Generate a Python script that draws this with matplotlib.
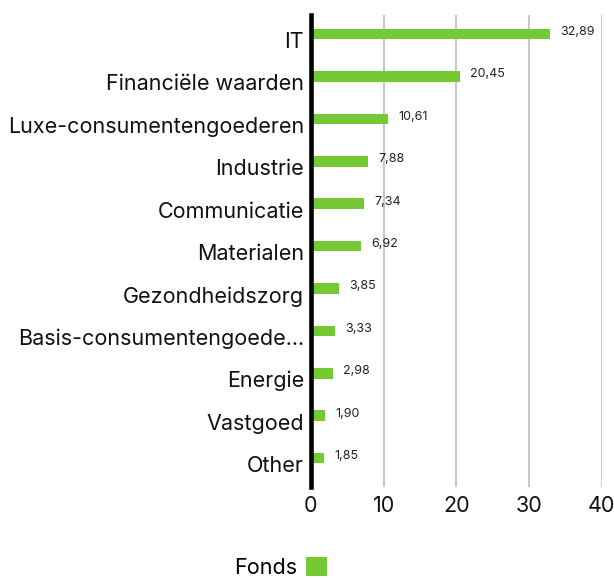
import matplotlib
matplotlib.use("Agg")
import matplotlib.pyplot as plt
from matplotlib.transforms import ScaledTranslation

# ---- data ----
sectors = ["IT", "Financiële waarden", "Luxe-consumentengoederen", "Industrie",
           "Communicatie", "Materialen", "Gezondheidszorg",
           "Basis-consumentengoede...", "Energie", "Vastgoed", "Other"]
fonds = [32.89, 20.45, 10.61, 7.88, 7.34, 6.92, 3.85, 3.33, 2.98, 1.90, 1.85]
xticks = [0, 10, 20, 30, 40]
series_name = "Fonds"

GREEN = "#74c934"
GRID = "#c8c8c8"

plt.rcParams["font.family"] = ["Inter", "DejaVu Sans"]

fig = plt.figure(figsize=(6.14, 5.78), dpi=100)
ax = fig.add_axes([0.5065, 0.1574, 0.4735, 0.8166])

ypos = [len(sectors) - 1 - i for i in range(len(sectors))]
ax.barh(ypos, fonds, height=0.25, color=GREEN, zorder=3, label=series_name)

for y, v in zip(ypos, fonds):
    ax.annotate(f"{v:.2f}".replace(".", ","), xy=(v, y), xytext=(7.5, 1.5),
                textcoords="offset points", va="center", ha="left",
                fontsize=9, color="#222222")

ax.set_xlim(0, 40)
ax.set_ylim(-0.684, 10.448)
ax.set_xticks(xticks)
ax.set_xticklabels([str(t) for t in xticks], fontsize=15.5, color="#111111")
ax.set_yticks(ypos)
ax.set_yticklabels(sectors, fontsize=15.5, color="#111111")
ax.tick_params(axis="both", length=0)
ax.tick_params(axis="x", pad=6.5)
ax.tick_params(axis="y", pad=5)

off = ScaledTranslation(0, -6 / 100, fig.dpi_scale_trans)
for lbl in ax.get_yticklabels():
    lbl.set_transform(lbl.get_transform() + off)

ax.grid(axis="x", color=GRID, linewidth=1.5, zorder=0)
ax.grid(axis="y", visible=False)
for s in ["top", "right", "bottom"]:
    ax.spines[s].set_visible(False)
ax.spines["left"].set_linewidth(3.3)
ax.spines["left"].set_color("black")
ax.spines["left"].set_zorder(4)

fig.legend(loc="center", bbox_to_anchor=(0.457, 0.018), frameon=False,
           markerfirst=False, fontsize=15.5, handlelength=0.95,
           handleheight=0.95, handletextpad=0.4, borderpad=0)

fig.savefig("out.png", dpi=100)
